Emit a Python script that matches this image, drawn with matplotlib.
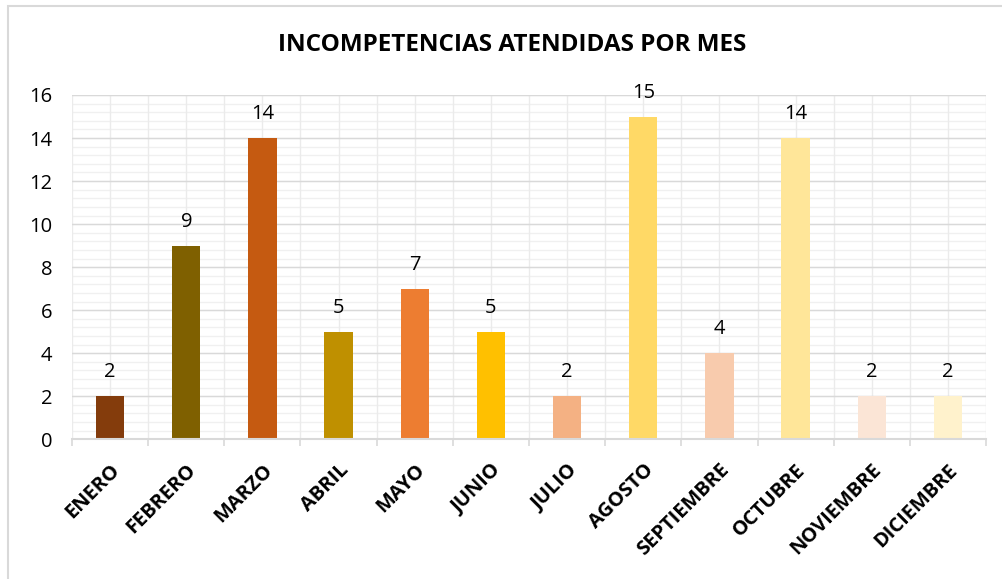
import matplotlib.pyplot as plt
from matplotlib.patches import Rectangle
import numpy as np

meses = ["ENERO", "FEBRERO", "MARZO", "ABRIL", "MAYO", "JUNIO", "JULIO",
         "AGOSTO", "SEPTIEMBRE", "OCTUBRE", "NOVIEMBRE", "DICIEMBRE"]
valores = [2, 9, 14, 5, 7, 5, 2, 15, 4, 14, 2, 2]
colores = ["#843C0C", "#7F6000", "#C55A11", "#BF9000", "#ED7D31", "#FFC000",
           "#F4B183", "#FFD966", "#F8CBAD", "#FFE699", "#FBE5D6", "#FFF2CC"]
y_ticks = [0, 2, 4, 6, 8, 10, 12, 14, 16]

plt.rcParams['font.family'] = ['Open Sans', 'DejaVu Sans']

fig = plt.figure(figsize=(10.02, 5.79), dpi=100)
# chart border (partly cut off, like the source screenshot)
fig.patches.append(Rectangle((8 / 1002, -0.1), 1.2, (579 - 6) / 579 + 0.1,
                             transform=fig.transFigure, fill=False,
                             edgecolor="#D9D9D9", linewidth=1.5))

ax = fig.add_axes([72 / 1002, (579 - 439.3) / 579, 914 / 1002, 344.3 / 579])
x = np.arange(len(meses))

# gridlines: minor every 0.4, major every 2, verticals every half category
for yv in np.arange(0, 16.01, 0.4):
    ax.axhline(yv, color="#F0F0F0", linewidth=1.0, zorder=0)
for yv in y_ticks:
    ax.axhline(yv, color="#D9D9D9", linewidth=1.0, zorder=0.5)
for xv in np.arange(-0.5, 11.51, 0.5):
    ax.axvline(xv, color="#EBEBEB", linewidth=1.0, zorder=0)

ax.bar(x, valores, width=0.37, color=colores, zorder=2)
for xi, v in zip(x, valores):
    ax.annotate(str(v), (xi, v), xytext=(0, 10), textcoords="offset points",
                ha="center", va="bottom", fontsize=14.5, color="#000000")

ax.set_xlim(-0.5, 11.5)
ax.set_ylim(0, 16)
ax.set_yticks(y_ticks)
ax.tick_params(axis="y", length=0, labelsize=14.5, pad=14)
ax.set_xticks(x)
ax.set_xticklabels(meses, rotation=45, ha="right", va="top",
                   rotation_mode="anchor", fontsize=14.5, fontweight="bold")
ax.tick_params(axis="x", length=0, pad=15)
ax.set_xticks(np.arange(-0.5, 11.51, 1), minor=True)
ax.tick_params(axis="x", which="minor", length=5, color="#D9D9D9", width=1.2)

for s in ["top", "right", "left"]:
    ax.spines[s].set_visible(False)
ax.spines["bottom"].set_color("#D9D9D9")
ax.spines["bottom"].set_linewidth(1.5)
ax.spines["bottom"].set_zorder(3)

fig.text(0.5115, (579 - 45) / 579, "INCOMPETENCIAS ATENDIDAS POR MES",
         ha="center", va="center", fontsize=17.5, fontweight="bold")

fig.savefig("out.png", dpi=100)
